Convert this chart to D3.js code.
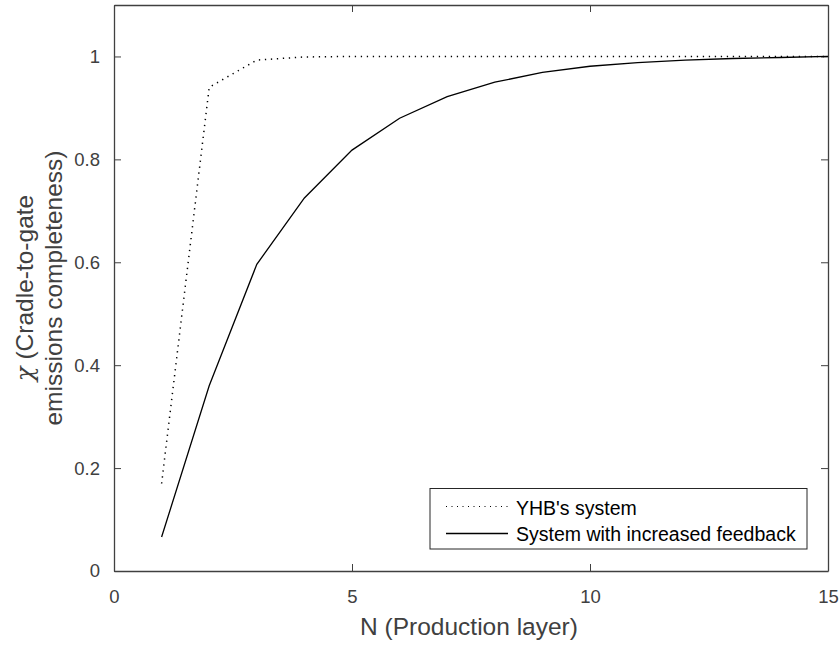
<!DOCTYPE html>
<html lang="en">
  <head>
    <meta charset="utf-8">
    <title>Cradle-to-gate emissions completeness</title>
    <script src="https://cdnjs.cloudflare.com/ajax/libs/d3/7.8.5/d3.min.js"></script>
    <style>
      body { margin: 0; background: #fff; }
      svg text { font-family: "Liberation Sans", Arial, sans-serif; }
      .tick text { fill: #404040; font-size: 18.5px; }
      .legend { font-size: 19.5px; fill: #000; }
      .label { font-size: 24.5px; fill: #404040; }
    </style>
  </head>
  <body>
    <div id="graph"></div>
    <script>
    // production layers and completeness values
    const layers = [1, 2, 3, 4, 5, 6, 7, 8, 9, 10, 11, 12, 13, 14, 15];
    const yhb = [0.17, 0.94, 0.993, 0.999, 1, 1, 1, 1, 1, 1, 1, 1, 1, 1, 1];
    const feedback = [0.066, 0.36, 0.596, 0.725, 0.818, 0.88, 0.922, 0.95, 0.969, 0.981, 0.988, 0.993, 0.996, 0.998, 1];
    const xTicks = [0, 5, 10, 15];
    const yTicks = [0, 0.2, 0.4, 0.6, 0.8, 1];

    const w = 840, h = 646;
    const pLeft = 114, pRight = 828, pTop = 5, pBottom = 571;
    const axisColor = "#404040";

    const svg = d3.select("#graph").append("svg")
                  .attr("width", w)
                  .attr("height", h);

    const xScale = d3.scaleLinear().domain([0, 15]).range([pLeft, pRight]);
    const yScale = d3.scaleLinear().domain([0, 1.1]).range([pBottom, pTop]);

    // axes, ticks pointing inward like matlab
    const xAxis = d3.axisBottom(xScale).tickValues(xTicks).tickSizeInner(-7).tickSizeOuter(0).tickPadding(19);
    const yAxis = d3.axisLeft(yScale).tickValues(yTicks).tickFormat(d3.format("")).tickSizeInner(-7).tickSizeOuter(0).tickPadding(14);

    svg.append("g").attr("transform", "translate(0," + pBottom + ")").call(xAxis);
    svg.append("g").attr("transform", "translate(" + pLeft + ",0)").call(yAxis);
    svg.append("g").attr("transform", "translate(0," + pTop + ")")
       .call(d3.axisTop(xScale).tickValues(xTicks).tickSizeInner(-7).tickSizeOuter(0).tickFormat(""));
    svg.append("g").attr("transform", "translate(" + pRight + ",0)")
       .call(d3.axisRight(yScale).tickValues(yTicks).tickSizeInner(-7).tickSizeOuter(0).tickFormat(""));

    svg.selectAll(".domain").attr("stroke", axisColor).attr("stroke-width", 1.3);
    svg.selectAll(".tick line").attr("stroke", axisColor);

    const line = d3.line()
                   .x((d, i) => xScale(layers[i]))
                   .y(d => yScale(d));

    svg.append("path")
       .datum(yhb)
       .attr("d", line)
       .attr("fill", "none")
       .attr("stroke", "#000")
       .attr("stroke-width", 1.5)
       .attr("stroke-dasharray", "1.3,4.7");

    svg.append("path")
       .datum(feedback)
       .attr("d", line)
       .attr("fill", "none")
       .attr("stroke", "#000")
       .attr("stroke-width", 1.3);

    // axis labels
    svg.append("text")
       .attr("class", "label")
       .attr("x", 469)
       .attr("y", 635)
       .attr("text-anchor", "middle")
       .text("N (Production layer)");

    const ylab = svg.append("text")
       .attr("class", "label")
       .attr("transform", "translate(33," + ((pTop + pBottom) / 2) + ") rotate(-90)")
       .attr("text-anchor", "middle");
    const l1 = ylab.append("tspan").attr("x", 0).attr("dy", 0);
    l1.append("tspan").style("font-family", "'DejaVu Serif', serif").style("font-style", "italic").text("\u03c7");
    l1.append("tspan").text(" (Cradle-to-gate");
    ylab.append("tspan").attr("x", 0).attr("dy", 29).text("emissions completeness)");

    // legend
    svg.append("rect")
       .attr("x", 430)
       .attr("y", 488.5)
       .attr("width", 377)
       .attr("height", 60.5)
       .attr("fill", "#fff")
       .attr("stroke", "#262626")
       .attr("stroke-width", 1);

    svg.append("line")
       .attr("x1", 446).attr("x2", 508)
       .attr("y1", 506.5).attr("y2", 506.5)
       .attr("stroke", "#000")
       .attr("stroke-width", 1)
       .attr("stroke-dasharray", "1,4.5");
    svg.append("line")
       .attr("x1", 446).attr("x2", 508)
       .attr("y1", 533.5).attr("y2", 533.5)
       .attr("stroke", "#000")
       .attr("stroke-width", 1.3);

    svg.append("text").attr("class", "legend").attr("x", 516).attr("y", 514.5).text("YHB's system");
    svg.append("text").attr("class", "legend").attr("x", 516).attr("y", 541).text("System with increased feedback");
    </script>
  </body>
</html>
